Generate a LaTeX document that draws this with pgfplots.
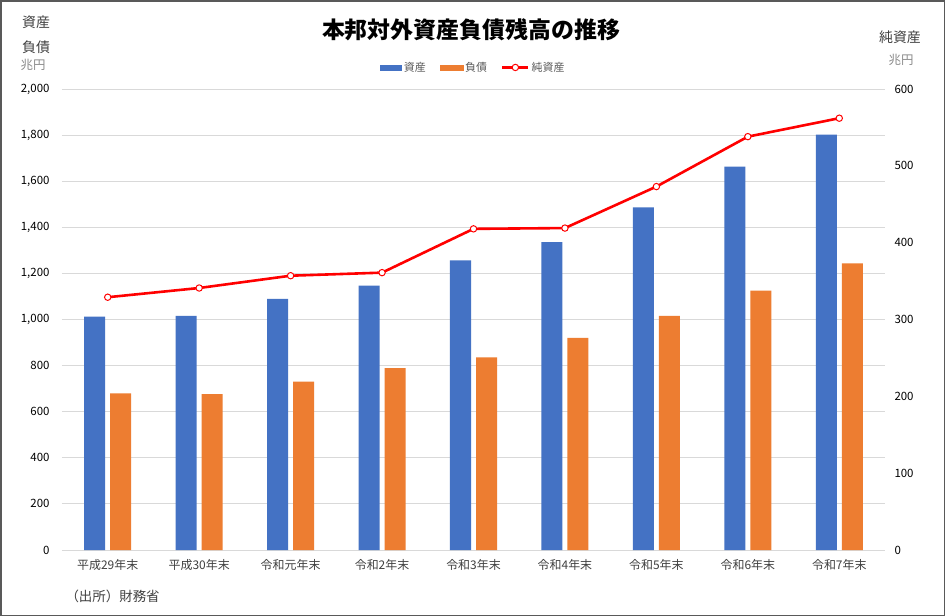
\documentclass[border=0pt]{standalone}
\usepackage{fontspec}
\setmainfont{Noto Sans CJK JP}
\usepackage{pgfplots}
\pgfplotsset{compat=1.18}

\definecolor{assetblue}{HTML}{4472C4}
\definecolor{liaborange}{HTML}{ED7D31}
\definecolor{netred}{HTML}{FF0000}
\definecolor{gridgray}{HTML}{D9D9D9}
\definecolor{labelgray}{HTML}{595959}
\definecolor{textdark}{HTML}{404040}
\definecolor{framegray}{HTML}{595959}

% 兆円, calendar year end
\pgfplotstableread{
idx assets liab net
0 1012 680 329
1 1016 676 341
2 1089 730 357
3 1147 789 361
4 1257 836 418
5 1336 920 419
6 1487 1016 473
7 1663 1125 538
8 1802 1244 562
}\bopdata

\begin{document}
\begin{tikzpicture}
\draw[draw=framegray, line width=1.5bp, fill=white] (0.75bp,-0.75bp) rectangle (944.25bp,-615.25bp);

% left axis: assets and liabilities
\begin{axis}[
  at={(62bp,-550bp)}, anchor=south west,
  scale only axis, width=823bp, height=461bp,
  xmin=-0.5, xmax=8.5, ymin=0, ymax=2000,
  axis line style={draw=none},
  major tick length=0pt,
  ytick={0,200,...,2000},
  ymajorgrids, grid style={gridgray, line width=0.9bp},
  xtick={0,...,8},
  xticklabels={平成29年末,平成30年末,令和元年末,令和2年末,令和3年末,令和4年末,令和5年末,令和6年末,令和7年末},
  x tick label style={font=\fontsize{12}{14}\selectfont, text=textdark, yshift=-6bp},
  y tick label style={font=\fontsize{11.5}{13}\selectfont, text=black, xshift=-9bp},
  /pgf/number format/.cd, 1000 sep={,}, fixed, assume math mode=true,
  /pgfplots/.cd,
  ybar, bar width=21bp,
]
\addplot[fill=assetblue, draw=none, bar shift=-13bp] table[x=idx, y=assets] {\bopdata};
\addplot[fill=liaborange, draw=none, bar shift=13bp] table[x=idx, y=liab] {\bopdata};
\end{axis}

% right axis: net assets
\begin{axis}[
  at={(62bp,-550bp)}, anchor=south west,
  scale only axis, width=823bp, height=461bp,
  xmin=-0.5, xmax=8.5, ymin=0, ymax=600,
  axis line style={draw=none},
  major tick length=0pt,
  xtick=\empty,
  ytick={0,100,...,600},
  yticklabel pos=right,
  y tick label style={font=\fontsize{11.5}{13}\selectfont, text=black, xshift=6bp},
  /pgf/number format/assume math mode=true,
  legend style={at={(0.5,1)}, anchor=south, yshift=14bp, draw=none, fill=none,
    font=\fontsize{11}{13}\selectfont, text=labelgray, legend columns=3,
    /tikz/every even column/.append style={column sep=12bp},
    inner sep=0pt},
  legend cell align=left,
]
\addlegendimage{legend image code/.code={\fill[assetblue] (0bp,-2.6bp) rectangle (21bp,2.6bp);}}
\addlegendentry{資産}
\addlegendimage{legend image code/.code={\fill[liaborange] (0bp,-2.6bp) rectangle (23bp,2.6bp);}}
\addlegendentry{負債}
\addplot[netred, line width=2.6bp, mark=*, mark size=3.2bp,
  mark options={fill=white, draw=netred, line width=1bp},
  legend image code/.code={\draw[netred, line width=2.6bp] (0bp,0bp) -- (26bp,0bp);
    \draw[netred, fill=white, line width=1bp] (13bp,0bp) circle (3.2bp);}]
  table[x=idx, y=net] {\bopdata};
\addlegendentry{純資産}
\end{axis}

% titles and unit labels
\node[font=\fontsize{23}{26}\selectfont\bfseries] at (471bp,-30bp) {本邦対外資産負債残高の推移};
\node[font=\fontsize{14}{16}\selectfont, text=textdark] at (36bp,-22bp) {資産};
\node[font=\fontsize{14}{16}\selectfont, text=textdark] at (36bp,-47bp) {負債};
\node[font=\fontsize{12.5}{14}\selectfont, text=labelgray!70] at (33bp,-65bp) {兆円};
\node[font=\fontsize{14}{16}\selectfont, text=textdark] at (900bp,-37bp) {純資産};
\node[font=\fontsize{12.5}{14}\selectfont, text=labelgray!70] at (901bp,-60bp) {兆円};
\node[font=\fontsize{13.5}{16}\selectfont, text=textdark, anchor=west] at (62bp,-596bp) {（出所）財務省};
\end{tikzpicture}
\end{document}
